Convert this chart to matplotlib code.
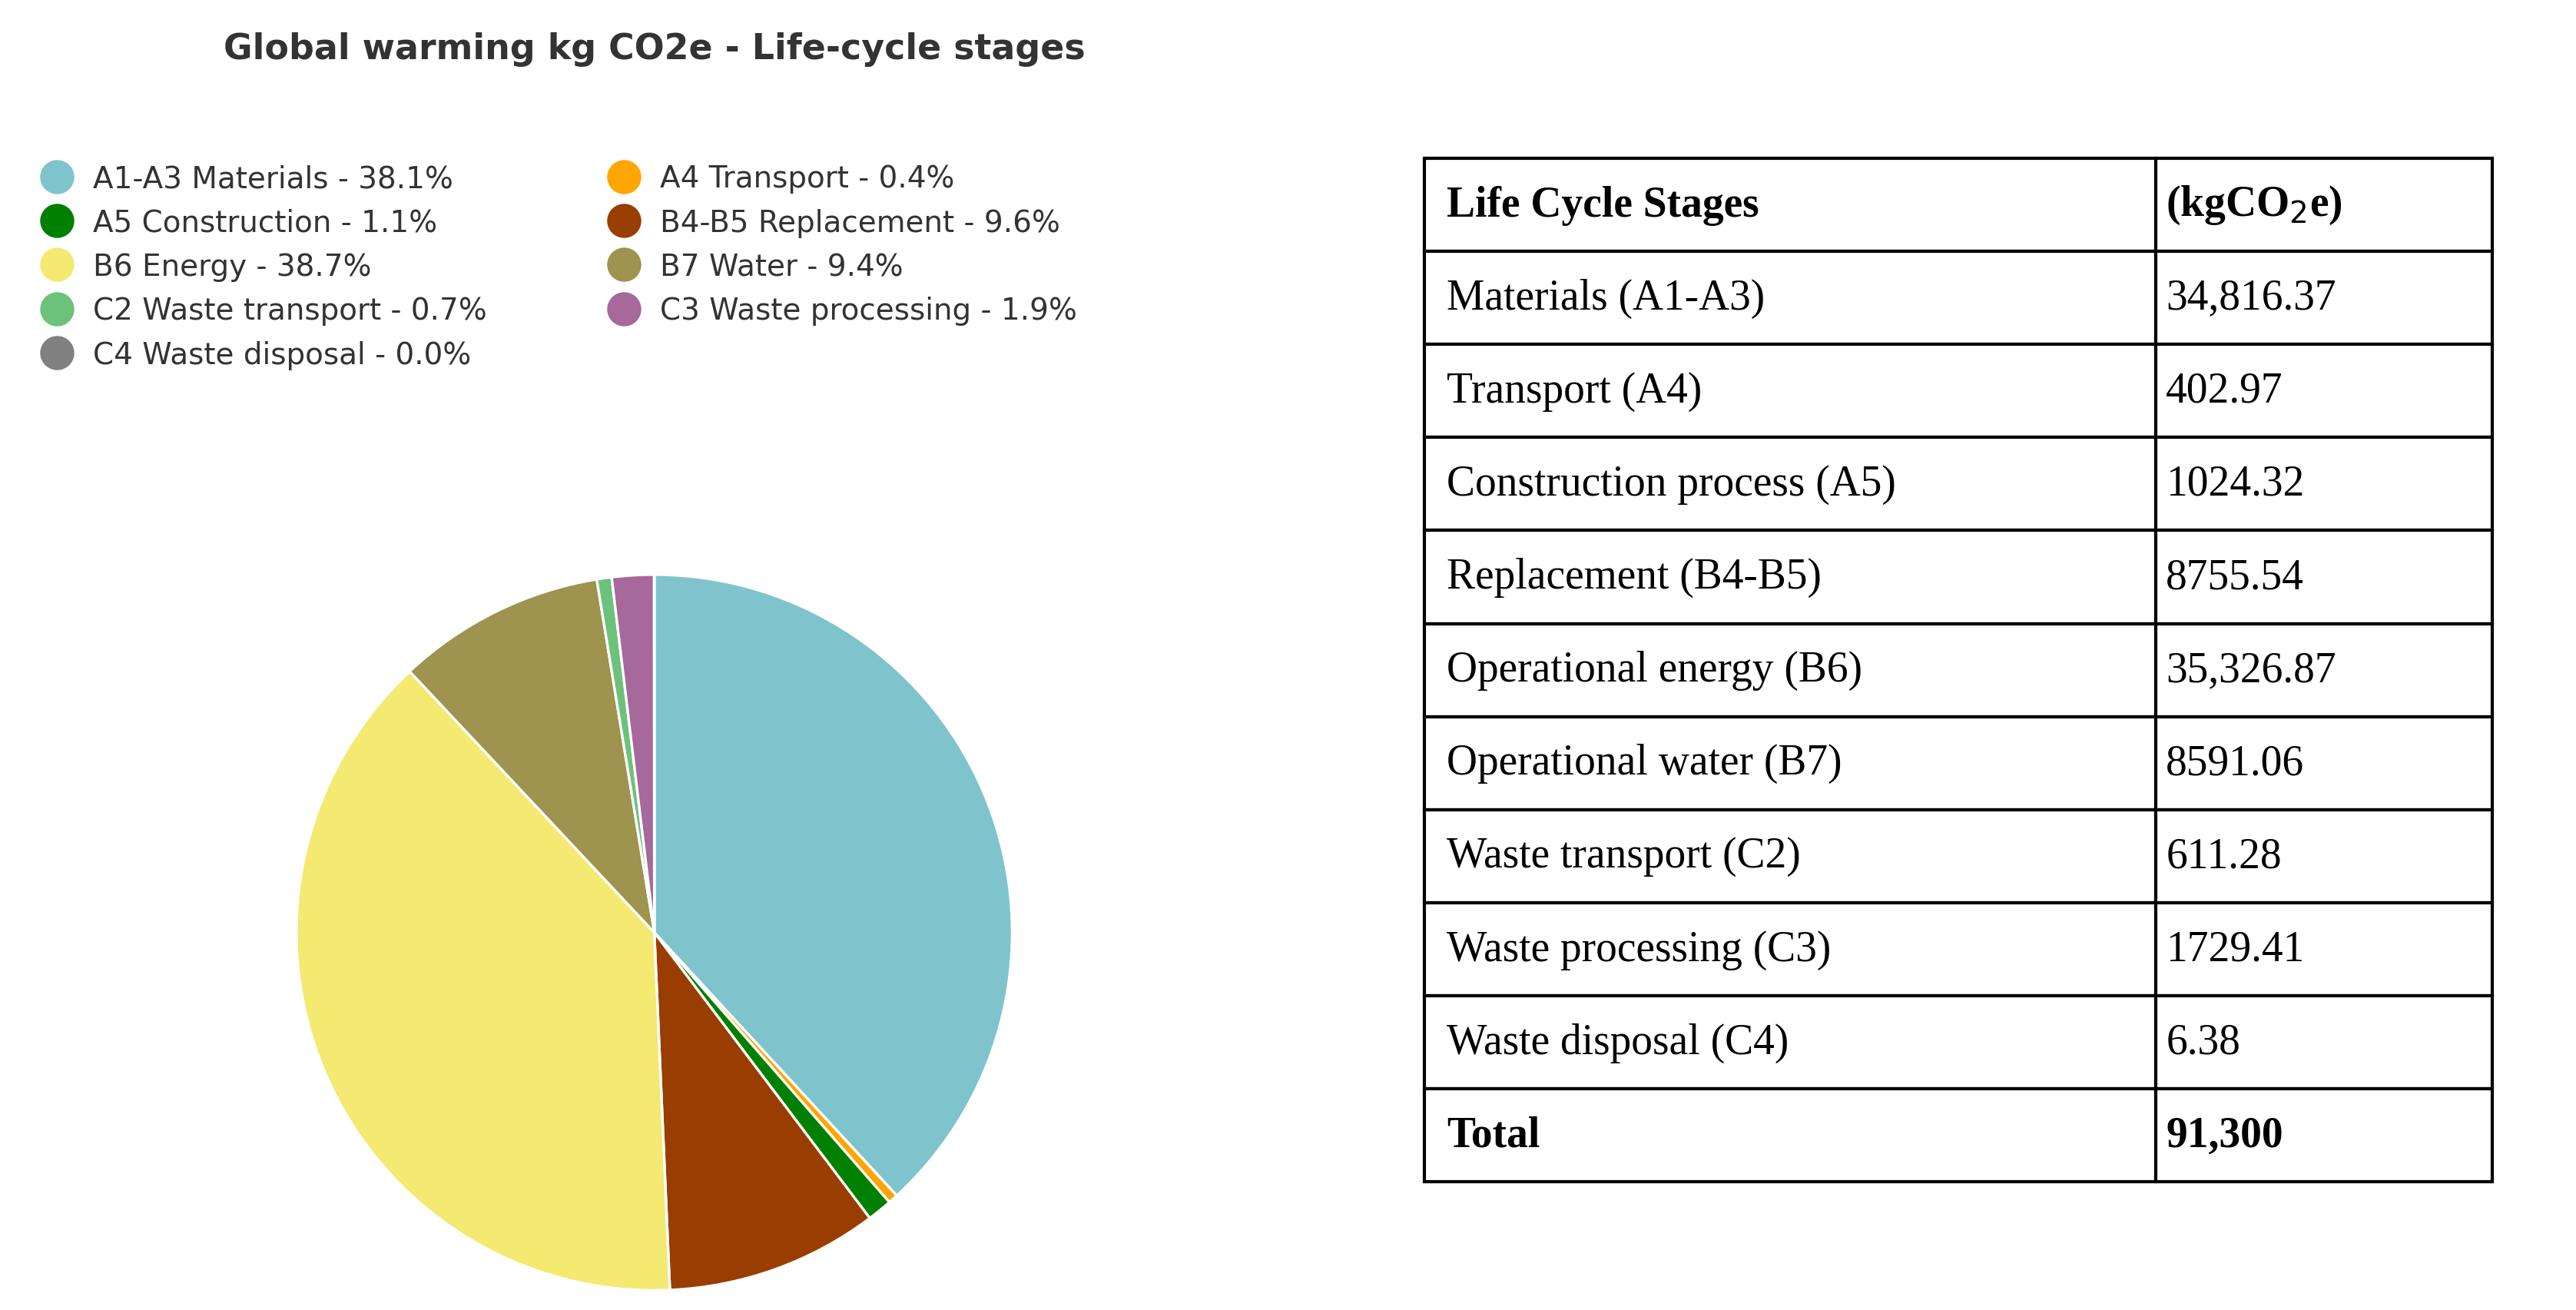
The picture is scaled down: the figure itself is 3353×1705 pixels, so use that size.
import numpy as np
import matplotlib.pyplot as plt
from matplotlib.lines import Line2D

# Life-cycle stage values (kgCO2e)
stages = ['Materials (A1-A3)', 'Transport (A4)', 'Construction process (A5)',
          'Replacement (B4-B5)', 'Operational energy (B6)', 'Operational water (B7)',
          'Waste transport (C2)', 'Waste processing (C3)', 'Waste disposal (C4)']
values = np.array([34816.37, 402.97, 1024.32, 8755.54, 35326.87, 8591.06, 611.28, 1729.41, 6.38])
value_text = ['34,816.37', '402.97', '1024.32', '8755.54', '35,326.87', '8591.06', '611.28', '1729.41', '6.38']
short = ['A1-A3 Materials', 'A4 Transport', 'A5 Construction', 'B4-B5 Replacement', 'B6 Energy',
         'B7 Water', 'C2 Waste transport', 'C3 Waste processing', 'C4 Waste disposal']
colors = ['#7fc4cc', '#ffa500', '#008000', '#993d00', '#f4e971', '#9e934f', '#6cc27a', '#a7689b', '#808080']

plt.close("all")
fig = plt.figure(figsize=(16.765, 8.53), dpi=200)

# Pie chart
ax = plt.axes([0.115, 0.015, 0.278, 0.546])
plt.pie(values, colors=colors, startangle=90, counterclock=False,
        wedgeprops={'edgecolor': 'white', 'linewidth': 1.2})
ax.set_xlim(-1, 1)
ax.set_ylim(-1, 1)
ax.set_aspect('equal')

fig.text(0.254, 0.962, 'Global warming kg CO2e - Life-cycle stages', ha='center', va='center',
         fontsize=16.5, fontweight='bold', color='#333333')

# Legend filled row by row
pct = values / values.sum() * 100
handles = [Line2D([], [], marker='o', linestyle='', markersize=15, color=c) for c in colors]
labels = ['%s - %.1f%%' % (s, p) for s, p in zip(short, pct)]
order = [0, 2, 4, 6, 8, 1, 3, 5, 7]
fig.legend([handles[i] for i in order], [labels[i] for i in order], ncol=2,
           loc='upper left', bbox_to_anchor=(0.0, 0.895), frameon=False, fontsize=14,
           labelcolor='#333333', handletextpad=0.2, columnspacing=3.6, labelspacing=0.5)

# Table
tax = plt.axes([0.553, 0.0977, 0.4145, 0.781])
tax.axis('off')
rows = [['Life Cycle Stages', '(kgCO$_2$e)']] + [[s, v] for s, v in zip(stages, value_text)] + [['Total', '91,300']]
tab = tax.table(cellText=rows, colWidths=[0.685, 0.315], cellLoc='left', loc='upper left',
                bbox=[0, 0, 1, 1])
tab.auto_set_font_size(False)
for (r, c), cell in tab.get_celld().items():
    cell.set_linewidth(1.5)
    cell.PAD = 0.03
    bold = r == 0 or r == len(rows) - 1
    cell.get_text().set_fontfamily('Liberation Serif')
    cell.get_text().set_fontsize(20)
    if bold:
        cell.get_text().set_fontweight('bold')

plt.savefig("out.png")
